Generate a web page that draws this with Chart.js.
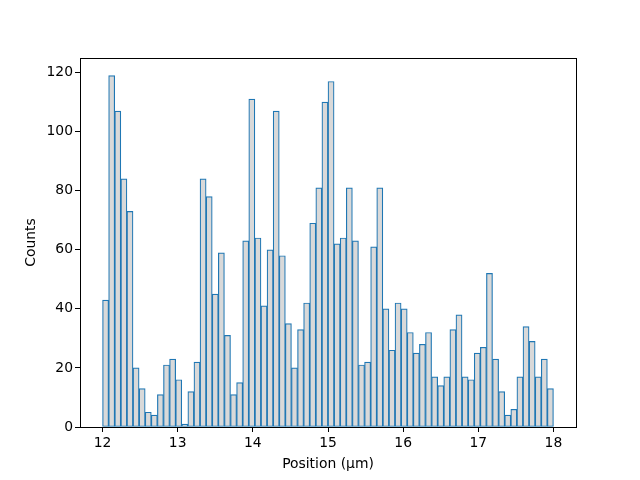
<!DOCTYPE html>
<html>
<head>
<meta charset="utf-8">
<script src="https://cdn.jsdelivr.net/npm/chart.js@4.4.1/dist/chart.umd.min.js"></script>
<style>
  html, body { margin: 0; padding: 0; background: #ffffff; }
  #wrap { width: 640px; height: 480px; }
</style>
</head>
<body>
<div id="wrap"><canvas id="hist" width="640" height="480"></canvas></div>
<script>
// histogram: 74 equal bins between 12 and 18
const binStart = 12;
const binEnd = 18;
const counts = [
  43, 119, 107, 84, 73, 20, 13, 5, 4, 11,
  21, 23, 16, 1, 12, 22, 84, 78, 45, 59,
  31, 11, 15, 63, 111, 64, 41, 60, 107, 58,
  35, 20, 33, 42, 69, 81, 110, 117, 62, 64,
  81, 63, 21, 22, 61, 81, 40, 26, 42, 40,
  32, 25, 28, 32, 17, 14, 17, 33, 38, 17,
  16, 25, 27, 52, 23, 12, 4, 6, 17, 34,
  29, 17, 23, 13
];
const xTicks = [12, 13, 14, 15, 16, 17, 18];
const yTicks = [0, 20, 40, 60, 80, 100, 120];

const binWidth = (binEnd - binStart) / counts.length;
const points = counts.map((c, i) => ({ x: binStart + (i + 0.5) * binWidth, y: c }));

const font = { family: 'DejaVu Sans', size: 13.9 };

// draws the top and right spines (the axes give the left and bottom ones)
const frame = {
  id: 'frame',
  afterDraw(chart) {
    const { ctx, chartArea: a } = chart;
    ctx.save();
    ctx.strokeStyle = '#000';
    ctx.lineWidth = 1;
    ctx.strokeRect(a.left + 0.5, a.top + 0.5, a.right - a.left, a.bottom - a.top);
    ctx.restore();
  }
};

new Chart(document.getElementById('hist').getContext('2d'), {
  type: 'bar',
  data: {
    datasets: [{
      data: points,
      backgroundColor: '#d9d9d9',
      borderColor: '#1f77b4',
      borderWidth: 1.2,
      borderSkipped: false,
      barPercentage: 1,
      categoryPercentage: 1
    }]
  },
  options: {
    responsive: false,
    animation: false,
    layout: { padding: { left: 0, right: 64, top: 58, bottom: 0 } },
    plugins: { legend: { display: false }, tooltip: { enabled: false } },
    scales: {
      x: {
        type: 'linear',
        offset: false,
        min: binStart - 0.05 * (binEnd - binStart),
        max: binEnd + 0.05 * (binEnd - binStart),
        afterBuildTicks: s => { s.ticks = xTicks.map(v => ({ value: v })); },
        afterFit: s => { s.height = 53; },
        grid: { display: true, offset: false, drawOnChartArea: false, drawTicks: true, tickLength: 5, color: '#000' },
        border: { display: true, color: '#000' },
        ticks: { color: '#000', font, padding: 3, maxRotation: 0 },
        title: { display: true, text: 'Position (μm)', color: '#000', font, padding: { top: 4, bottom: 7 } }
      },
      y: {
        min: 0,
        max: 119 * 1.05,
        afterBuildTicks: s => { s.ticks = yTicks.map(v => ({ value: v })); },
        afterFit: s => { s.width = 80; },
        grid: { display: true, drawOnChartArea: false, drawTicks: true, tickLength: 5, color: '#000' },
        border: { display: true, color: '#000' },
        ticks: { color: '#000', font, padding: 2 },
        title: { display: true, text: 'Counts', color: '#000', font, padding: { top: 23, bottom: 4 } }
      }
    }
  },
  plugins: [frame]
});
</script>
</body>
</html>
